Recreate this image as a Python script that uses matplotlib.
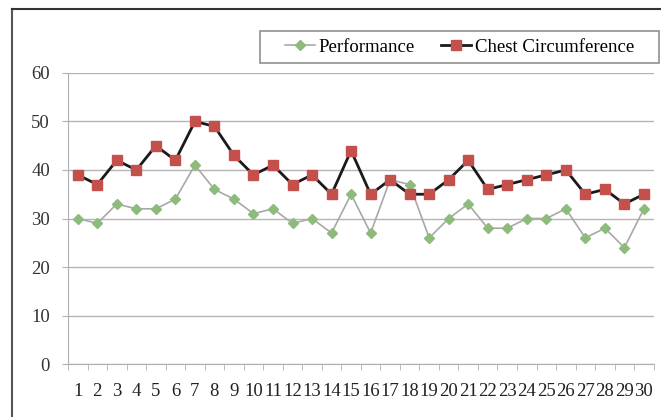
import matplotlib
matplotlib.use("Agg")
import matplotlib.pyplot as plt
from matplotlib.lines import Line2D
from matplotlib.patches import Rectangle

subjects = list(range(1, 31))
performance = [30, 29, 33, 32, 32, 34, 41, 36, 34, 31, 32, 29, 30, 27, 35,
               27, 38, 37, 26, 30, 33, 28, 28, 30, 30, 32, 26, 28, 24, 32]
chest = [39, 37, 42, 40, 45, 42, 50, 49, 43, 39, 41, 37, 39, 35, 44,
         35, 38, 35, 35, 38, 42, 36, 37, 38, 39, 40, 35, 36, 33, 35]
y_ticks = [0, 10, 20, 30, 40, 50, 60]

plt.rcParams['font.family'] = ['Liberation Serif', 'DejaVu Serif']

W, H = 661, 417
fig = plt.figure(figsize=(6.61, 4.17), dpi=100)
ax = fig.add_axes([0.1029, 0.127, 0.886, 0.698])

ax.plot(subjects, performance, color='#a8a8a8', lw=1.2, marker='D',
        markersize=5, markerfacecolor='#8dbb7c', markeredgecolor='#8dbb7c',
        label='Performance', zorder=3)
ax.plot(subjects, chest, color='#1a1a1a', lw=2.0, marker='s',
        markersize=7.5, markerfacecolor='#c4504c', markeredgecolor='#c4504c',
        label='Chest Circumference', zorder=4)

ax.set_xlim(0.5, 30.5)
ax.set_ylim(0, 60)
ax.set_yticks(y_ticks)
ax.set_xticks(subjects)
ax.set_xticks([i + 0.5 for i in range(0, 31)], minor=True)
ax.tick_params(axis='x', which='major', length=0, pad=14, labelsize=13.5, colors='#222222')
ax.tick_params(axis='x', which='minor', length=4, color='#b0b0b0', direction='out')
ax.tick_params(axis='y', length=4, color='#b0b0b0', pad=9, labelsize=13.5, labelcolor='#333333')
ax.yaxis.grid(True, color='#b5b5b5', lw=1.0)
ax.set_axisbelow(True)
for s in ['top', 'right']:
    ax.spines[s].set_visible(False)
for s in ['left', 'bottom']:
    ax.spines[s].set_color('#b0b0b0')

# legend box
fig.add_artist(Rectangle((260/W, 1 - 63/H), 399/W, 32/H, transform=fig.transFigure,
                         facecolor='white', edgecolor='#909090', lw=1.2, zorder=5))
handles, labels = ax.get_legend_handles_labels()
leg = fig.legend(handles, labels, loc='center', bbox_to_anchor=(459.5/W, 1 - 47/H),
                 bbox_transform=fig.transFigure,
                 ncol=2, frameon=False, fontsize=13.5, handlelength=1.6,
                 columnspacing=1.4, borderpad=0.3, handletextpad=0.2, borderaxespad=0)
leg.set_zorder(6)

# outer chart frame (left and top edges visible)
fig.add_artist(Line2D([12/W, 12/W], [0, 1 - 9/H], transform=fig.transFigure,
                      color='#555555', lw=1.5))
fig.add_artist(Line2D([12/W, 1], [1 - 9/H, 1 - 9/H], transform=fig.transFigure,
                      color='#333333', lw=1.5))

fig.savefig('out.png', dpi=100)
